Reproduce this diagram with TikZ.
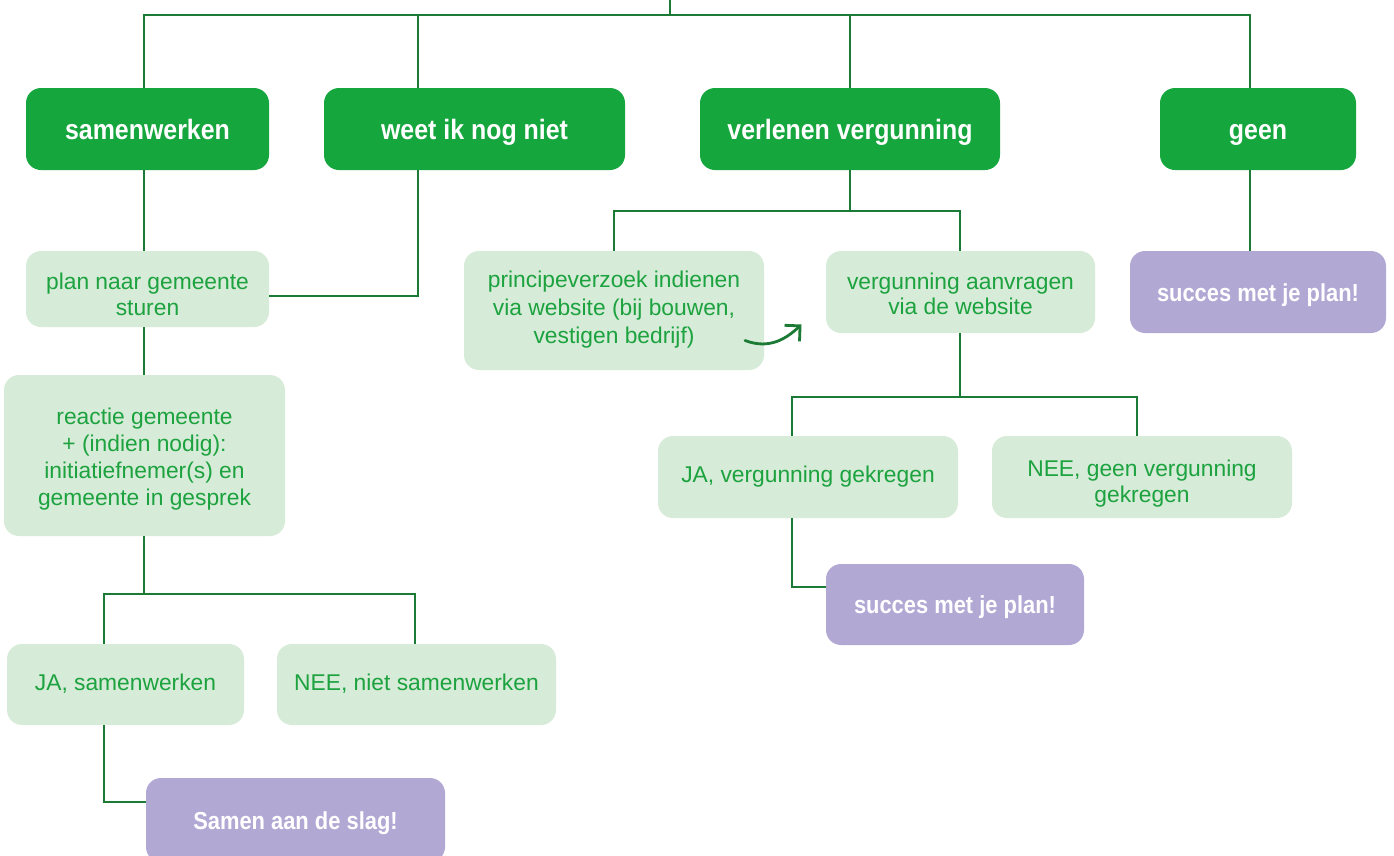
\documentclass[tikz,border=0pt]{standalone}
\usepackage{fontspec}
\setmainfont{Liberation Sans}
\newfontfamily\narrowbold[FakeStretch=0.89]{Liberation Sans Bold}
\usetikzlibrary{arrows.meta}
\definecolor{hdr}{HTML}{15A63D}
\definecolor{lightg}{HTML}{D6EBD8}
\definecolor{txtg}{HTML}{1CA23E}
\definecolor{lineg}{HTML}{1B7A33}
\definecolor{purp}{HTML}{B1A8D4}
\tikzset{
  hbox/.style={fill=hdr, text=white, rounded corners=15pt, inner sep=0pt, minimum height=82pt,
    text height=21pt, text depth=0pt,
    font=\fontsize{28}{32}\narrowbold},
  lbox/.style={fill=lightg, text=txtg, rounded corners=15pt, inner sep=0pt, align=center,
    text height=17pt, text depth=6pt,
    font=\fontsize{22.8}{26}\selectfont},
  lmulti/.style={lbox, text height=#1, text depth=0pt},
  pbox/.style={fill=purp, text=white, rounded corners=15pt, inner sep=0pt,
    text height=18pt, text depth=0pt,
    font=\fontsize{24.6}{28}\narrowbold},
  conn/.style={draw=lineg, line width=2.8pt},
}
\begin{document}
\begin{tikzpicture}[x=1pt,y=-1pt]
\useasboundingbox (0,0) rectangle (1394,855);
\clip (0,0) rectangle (1394,855);
% header boxes
\node[hbox, minimum width=243pt] (h1) at (147.5,129) {samenwerken};
\node[hbox, minimum width=301pt] (h2) at (474.5,129) {weet ik nog niet};
\node[hbox, minimum width=300pt] (h3) at (850,129) {verlenen vergunning};
\node[hbox, minimum width=196pt] (h4) at (1258,129) {geen};
% light boxes
\node[lmulti=52pt, minimum width=243pt, minimum height=76pt] (l1) at (147.5,289) {plan naar gemeente\\sturen};
\node[lmulti=100pt, minimum width=281pt, minimum height=161pt, font=\fontsize{22.8}{27}\selectfont] (l2) at (144.5,455.5) {reactie gemeente\\+ (indien nodig):\\initiatiefnemer(s) en\\gemeente in gesprek};
\node[lbox, minimum width=237pt, minimum height=81pt] (l3) at (125.5,684.5) {JA, samenwerken};
\node[lbox, minimum width=279pt, minimum height=81pt] (l4) at (416.5,684.5) {NEE, niet samenwerken};
\node[lmulti=66pt, minimum width=300pt, minimum height=119pt, font=\fontsize{22.8}{28}\selectfont] (l5) at (614,310.5) {principeverzoek indienen\\via website (bij bouwen,\\vestigen bedrijf)};
\node[lmulti=44pt, minimum width=269pt, minimum height=82pt, font=\fontsize{22.8}{25}\selectfont] (l6) at (960.5,292) {vergunning aanvragen\\via de website};
\node[lbox, minimum width=300pt, minimum height=82pt] (l7) at (808,477) {JA, vergunning gekregen};
\node[lmulti=50pt, minimum width=300pt, minimum height=82pt] (l8) at (1142,477) {NEE, geen vergunning\\gekregen};
% purple boxes
\node[pbox, minimum width=299pt, minimum height=84pt] (p1) at (295.5,820) {Samen aan de slag!};
\node[pbox, minimum width=258pt, minimum height=81pt] (p2) at (955,604.5) {succes met je plan!};
\node[pbox, minimum width=256pt, minimum height=82pt] (p3) at (1258,292) {succes met je plan!};
% helper coordinates
\coordinate (top) at (670,0);
\coordinate (bar) at (0,15);
\coordinate (xa) at (144,0);
\coordinate (xb) at (418,0);
\coordinate (xc) at (850,0);
\coordinate (xd) at (1250,0);
\coordinate (xe) at (104,0);
\coordinate (xf) at (415,0);
\coordinate (xg) at (614,0);
\coordinate (xh) at (960,0);
\coordinate (xi) at (792,0);
\coordinate (xj) at (1137,0);
\coordinate (yb) at (0,296);
\coordinate (y2) at (0,594);
\coordinate (y3) at (0,802);
\coordinate (y4) at (0,211);
\coordinate (y5) at (0,397);
\coordinate (y6) at (0,587);
% top bar
\draw[conn] (top) -- (top |- bar);
\draw[conn] (h1.north -| xa) -- (bar -| xa) -- (bar -| xd) -- (h4.north -| xd);
\draw[conn] (bar -| xb) -- (h2.north -| xb);
\draw[conn] (bar -| xc) -- (h3.north -| xc);
% left column
\draw[conn] (h1.south -| xa) -- (l1.north -| xa);
\draw[conn] (h2.south -| xb) -- (yb -| xb) -- (l1.east |- yb);
\draw[conn] (l1.south -| xa) -- (l2.north -| xa);
\draw[conn] (l2.south -| xa) -- (y2 -| xa);
\draw[conn] (l3.north -| xe) -- (y2 -| xe) -- (y2 -| xf) -- (l4.north -| xf);
\draw[conn] (l3.south -| xe) -- (y3 -| xe) -- (p1.west |- y3);
% middle
\draw[conn] (h3.south) -- (y4 -| xc);
\draw[conn] (l5.north -| xg) -- (y4 -| xg) -- (y4 -| xh) -- (l6.north -| xh);
\draw[conn] (l6.south -| xh) -- (y5 -| xh);
\draw[conn] (l7.north -| xi) -- (y5 -| xi) -- (y5 -| xj) -- (l8.north -| xj);
\draw[conn] (l7.south -| xi) -- (y6 -| xi) -- (p2.west |- y6);
% right
\draw[conn] (h4.south -| xd) -- (p3.north -| xd);
% curved arrow
\coordinate (ar1) at (745,340.5);
\coordinate (ar2) at (801.5,324.5);
\draw[draw=lineg, line width=2.8pt, line cap=round, -{Straight Barb[length=11pt,width=22pt,line width=2.8pt]}]
  (ar1) .. controls (770,350) and (787,338) .. (ar2);
\end{tikzpicture}
\end{document}
